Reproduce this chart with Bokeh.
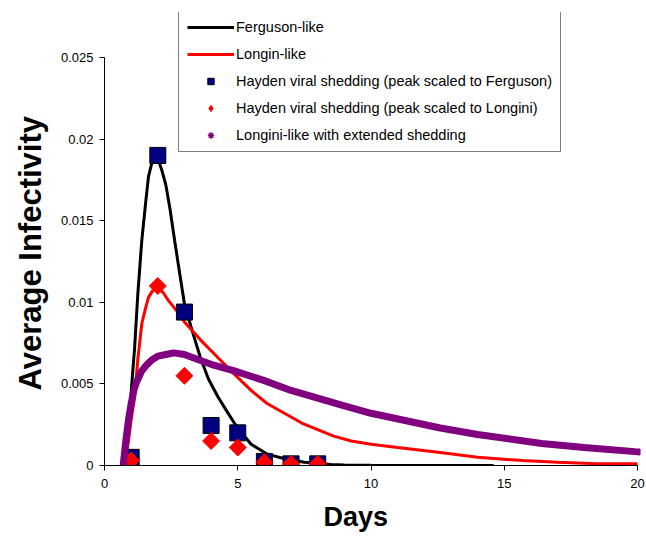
from bokeh.plotting import figure
from bokeh.models import Range1d, FixedTicker, Legend, LegendItem, Title
from bokeh.embed import file_html
from bokeh.resources import INLINE
import math

# ---- data ----
obs_days = [1, 2, 3, 4, 5, 6, 7, 8]
hayden_ferguson = [0.0005, 0.019, 0.0094, 0.00245, 0.002, 0.00025, 0.0001, 0.0001]
hayden_longini = [0.0003, 0.011, 0.0055, 0.0015, 0.0011, 0.0002, 0.0001, 0.0001]

ferguson_x = [0.75, 0.9, 1.0, 1.13, 1.25, 1.4, 1.55, 1.65, 1.8, 1.9, 2.0, 2.15, 2.3, 2.45,
              2.63, 2.8, 3.0, 3.3, 3.6, 3.9, 4.26, 4.6, 4.87, 5.2, 5.5, 6.1, 6.8, 7.5, 8.0,
              8.5, 9.0, 10.0, 12.0, 14.6]
ferguson_y = [0.0, 0.002, 0.0045, 0.0072, 0.0105, 0.0138, 0.0162, 0.0177, 0.0187, 0.019,
              0.0188, 0.0181, 0.0172, 0.0158, 0.0138, 0.012, 0.0099, 0.0082, 0.0066, 0.0053,
              0.0042, 0.0033, 0.0026, 0.0019, 0.0013, 0.0007, 0.0004, 0.0002, 0.00012,
              0.00006, 0.00003, 0.00001, 0.0, 0.0]

longini_x = [0.75, 0.9, 1.0, 1.13, 1.25, 1.4, 1.55, 1.65, 1.8, 1.97, 2.2, 2.4, 2.7, 3.0, 3.6,
             4.26, 4.87, 5.5, 6.1, 7.4, 8.6, 9.26, 10.0, 11.0, 12.6, 14.0, 15.7, 17.0, 18.5, 20.0]
longini_y = [0.0, 0.0015, 0.0028, 0.0042, 0.0065, 0.0087, 0.0097, 0.0103, 0.0107, 0.0109,
             0.0106, 0.0101, 0.0095, 0.0088, 0.0077, 0.0066, 0.0056, 0.0046, 0.0038, 0.0026,
             0.0018, 0.0015, 0.0013, 0.0011, 0.0008, 0.0005, 0.0003, 0.0002, 0.0001, 0.0001]

extended_x = [0.7, 0.8, 0.9, 1.0, 1.1, 1.2, 1.4, 1.6, 1.8, 2.0, 2.3, 2.6, 3.0, 3.5, 4.0, 4.87,
              6.0, 7.0, 8.9, 10.0, 12.6, 14.0, 16.4, 18.0, 19.9, 20.1]
extended_y = [0.0, 0.0015, 0.0028, 0.0038, 0.0046, 0.0051, 0.0058, 0.0062, 0.0065, 0.0067,
              0.0068, 0.0069, 0.0068, 0.0065, 0.0062, 0.0058, 0.0052, 0.0046, 0.0037, 0.0032,
              0.0023, 0.0019, 0.00135, 0.0011, 0.00085, 0.00083]

x_ticks = [0, 5, 10, 15, 20]
x_tick_labels = ["0", "5", "10", "15", "20"]
y_ticks = [0, 0.005, 0.01, 0.015, 0.02, 0.025]
y_tick_labels = ["0", "0.005", "0.01", "0.015", "0.02", "0.025"]

series_names = ["Ferguson-like", "Longin-like",
                "Hayden viral shedding (peak scaled to Ferguson)",
                "Hayden viral shedding (peak scaled to Longini)",
                "Longini-like with extended shedding"]
x_title = "Days"
y_title = "Average Infectivity"

FONT = "Liberation Sans"

p = figure(width=646, height=542, output_backend="svg", toolbar_location=None,
           x_range=Range1d(0, 20.112), y_range=Range1d(0, 0.027757),
           min_border_left=103, min_border_right=6, min_border_top=12, min_border_bottom=77)
p.outline_line_color = None
p.xgrid.grid_line_color = None
p.ygrid.grid_line_color = None
p.background_fill_color = "white"
p.border_fill_color = "white"

r_ferg = p.line(ferguson_x, ferguson_y, line_color="black", line_width=3)
r_long = p.line(longini_x, longini_y, line_color="#ff0000", line_width=3)
r_sq = p.scatter(obs_days, hayden_ferguson, marker="square", size=16,
                 fill_color="#000080", line_color="black", line_width=1)
r_di_leg = p.scatter(obs_days, hayden_longini, marker="diamond", size=14,
                     fill_color="#ff0000", line_color="#ff0000", line_width=1)
r_di = p.scatter(obs_days, hayden_longini, marker="square", size=12, angle=math.pi / 4,
                 fill_color="#ff0000", line_color="#ff0000", line_width=1)
r_ext_line = p.line(extended_x, extended_y, line_color="#800080", line_width=7)
r_ext_mark = p.scatter(extended_x, extended_y, marker="asterisk", size=6,
                       line_color="#800080", line_width=1.5)

for ax in (p.xaxis[0], p.yaxis[0]):
    ax.axis_line_color = "black"
    ax.major_tick_line_color = "black"
    ax.minor_tick_line_color = None
    ax.major_tick_in = 0
    ax.major_tick_out = 5
    ax.major_label_text_font = FONT
    ax.major_label_text_font_size = "13px"
    ax.major_label_text_color = "black"

p.xaxis.ticker = FixedTicker(ticks=x_ticks)
p.xaxis.major_label_overrides = dict(zip(x_ticks, x_tick_labels))
p.xaxis.bounds = (0, 20)
p.yaxis.ticker = FixedTicker(ticks=y_ticks)
p.yaxis.major_label_overrides = dict(zip(y_ticks, y_tick_labels))
p.yaxis.bounds = (0, 0.025)
p.xaxis.major_label_standoff = 8
p.yaxis.major_label_standoff = 6

t_y = Title(text=y_title, align="left", offset=75, standoff=20,
            text_font=FONT, text_font_size="31px", text_font_style="bold", text_color="black")
p.add_layout(t_y, "left")
t_x = Title(text=x_title, align="left", offset=219, standoff=18,
            text_font=FONT, text_font_size="27px", text_font_style="bold", text_color="black")
p.add_layout(t_x, "below")

legend = Legend(items=[
    LegendItem(label=series_names[0], renderers=[r_ferg]),
    LegendItem(label=series_names[1], renderers=[r_long]),
    LegendItem(label=series_names[2], renderers=[r_sq]),
    LegendItem(label=series_names[3], renderers=[r_di_leg]),
    LegendItem(label=series_names[4], renderers=[r_ext_mark]),
], location=(74, 313))
legend.label_text_font = FONT
legend.label_text_font_size = "14.5px"
legend.label_text_color = "black"
legend.glyph_width = 47
legend.glyph_height = 16
legend.label_height = 16
legend.spacing = 11
legend.padding = 8
legend.margin = 0
legend.label_standoff = 2
legend.border_line_color = "black"
legend.border_line_width = 1
legend.background_fill_color = "white"
legend.background_fill_alpha = 1
p.add_layout(legend, "center")

open("out.html", "w").write(file_html(p, INLINE))
